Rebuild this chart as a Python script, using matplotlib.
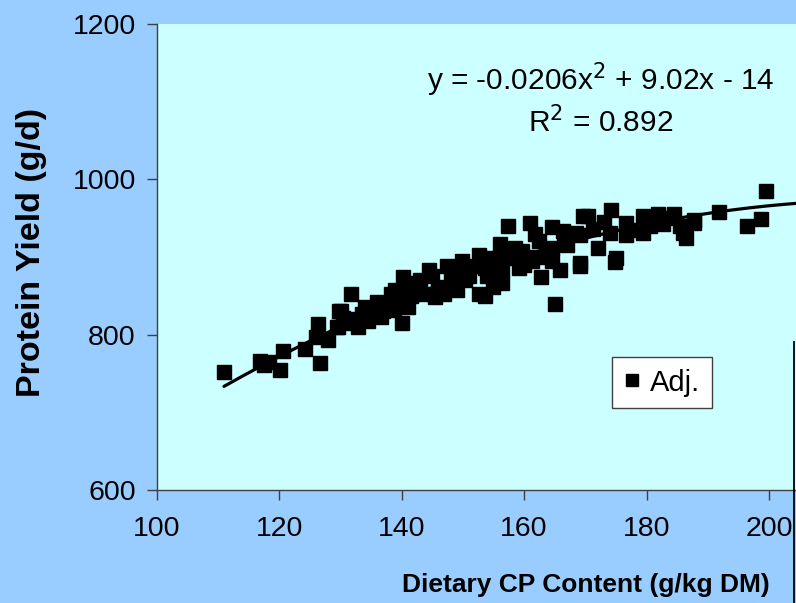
"""Protein yield against dietary CP content with a quadratic trend line."""

import matplotlib

matplotlib.use("Agg")
import matplotlib.pyplot as plt  # noqa: E402
import numpy as np  # noqa: E402
from matplotlib.lines import Line2D  # noqa: E402

plt.rcParams["font.family"] = ["Liberation Sans", "DejaVu Sans"]

# adjusted observations: dietary CP (g/kg DM) and protein yield (g/d)
cp_content = [
    111.0, 116.8, 118.3, 117.5, 120.2, 120.7, 124.3, 126.3, 126.0, 126.7,
    128.0, 129.4, 129.8, 130.5, 131.8, 130.1, 132.6, 134.0, 129.6, 132.8,
    133.5, 136.7, 137.5, 138.3, 138.8, 140.0, 140.2, 141.0, 139.5, 140.5,
    141.5, 142.0, 143.0, 143.8, 144.4, 145.4, 146.0, 147.4, 148.7, 147.0,
    149.0, 148.0, 145.0, 142.5, 139.0, 137.0, 135.5, 134.5, 131.0, 136.0,
    149.8, 148.7, 150.3, 150.8, 151.5, 152.6, 152.6, 153.6, 153.6, 154.8,
    155.5, 156.1, 156.4, 156.4, 157.4, 158.1, 159.2, 159.7, 160.5, 161.0,
    161.3, 161.8, 162.5, 162.7, 163.5, 164.6, 164.6, 164.6, 165.1, 165.8,
    166.3, 167.0, 168.4, 169.1, 151.0, 154.0, 155.0, 157.0, 158.5, 160.0,
    163.0, 166.5, 169.1, 169.1, 169.6, 170.4, 171.2, 172.0, 173.0, 174.0,
    174.2, 175.0, 174.8, 176.6, 176.6, 177.5, 179.4, 179.4, 180.5, 181.9,
    182.7, 183.5, 184.4, 185.5, 186.0, 186.5, 187.7, 187.7, 191.8, 196.4,
    198.7, 199.5,
]
protein_yield = [
    752, 766, 765, 761, 755, 779, 782, 814, 797, 763,
    793, 810, 831, 822, 853, 831, 820, 835, 810, 810,
    826, 823, 840, 853, 832, 815, 874, 835, 845, 860,
    850, 866, 870, 853, 883, 848, 862, 889, 874, 853,
    857, 870, 875, 858, 858, 830, 828, 818, 815, 842,
    895, 886, 870, 880, 888, 902, 853, 850, 886, 899,
    893, 917, 883, 866, 940, 899, 886, 908, 900, 944,
    895, 930, 921, 874, 910, 938, 912, 895, 840, 883,
    934, 915, 931, 892, 875, 875, 862, 905, 912, 890,
    900, 920, 889, 928, 953, 953, 936, 912, 945, 931,
    960, 899, 893, 944, 928, 935, 953, 931, 940, 956,
    943, 950, 956, 940, 931, 924, 947, 944, 958, 940,
    949, 985,
]

# quadratic trend: y = a x^2 + b x + c
trend_coef = [-0.0206, 9.02, -14]
r_squared = 0.892

outer_bg = "#99CCFF"
plot_bg = "#CCFFFF"

fig = plt.figure(figsize=(7.96, 6.03), dpi=100, facecolor=outer_bg)
ax = fig.add_axes([0.1968, 0.1874, 0.8032, 0.7728], facecolor=plot_bg)

ax.plot(cp_content, protein_yield, linestyle="none", marker="s",
        markersize=9.4, color="black", label="Adj.", zorder=3)

xs = np.linspace(min(cp_content), 206, 200)
ax.plot(xs, np.polyval(trend_coef, xs), color="black", linewidth=2.3,
        solid_capstyle="round", zorder=4)

ax.set_xlim(100, 204.4)
ax.set_ylim(600, 1200)
ax.set_xticks([100, 120, 140, 160, 180, 200])
ax.set_yticks([600, 800, 1000, 1200])

for side in ("top", "right"):
    ax.spines[side].set_visible(False)
for side in ("left", "bottom"):
    ax.spines[side].set_color("#404040")
    ax.spines[side].set_linewidth(1.0)
ax.tick_params(direction="out", length=7, width=1.0, color="#404040",
               labelsize=20.5, pad=12)
ax.tick_params(axis="y", pad=8)

fig.text(0.040, 0.582, "Protein Yield (g/d)", fontsize=24.5,
         fontweight="bold", rotation=90, ha="center", va="center")
fig.text(0.736, 0.030, "Dietary CP Content (g/kg DM)", fontsize=19,
         fontweight="bold", ha="center", va="center")

fig.text(0.755, 0.868,
         f"y = {trend_coef[0]}x$^{{2}}$ + {trend_coef[1]}x - {abs(trend_coef[2])}",
         ha="center", va="center", fontsize=21.5)
fig.text(0.755, 0.797, f"R$^{{2}}$ = {r_squared}",
         ha="center", va="center", fontsize=21.5)

leg = ax.legend(loc="upper left", bbox_to_anchor=(0.7688, 0.408),
                bbox_transform=fig.transFigure, frameon=True, fancybox=False,
                fontsize=21, handlelength=0.55, handletextpad=0.35,
                borderpad=0.4, borderaxespad=0, markerscale=0.85)
leg.get_frame().set_edgecolor("#404040")
leg.get_frame().set_facecolor("white")
leg.get_frame().set_alpha(1.0)

fig.add_artist(Line2D([794 / 796, 794 / 796], [0, 1 - 342 / 603],
                      transform=fig.transFigure, color="black", linewidth=1.3))

fig.savefig("out.png", dpi=100, facecolor=outer_bg)
